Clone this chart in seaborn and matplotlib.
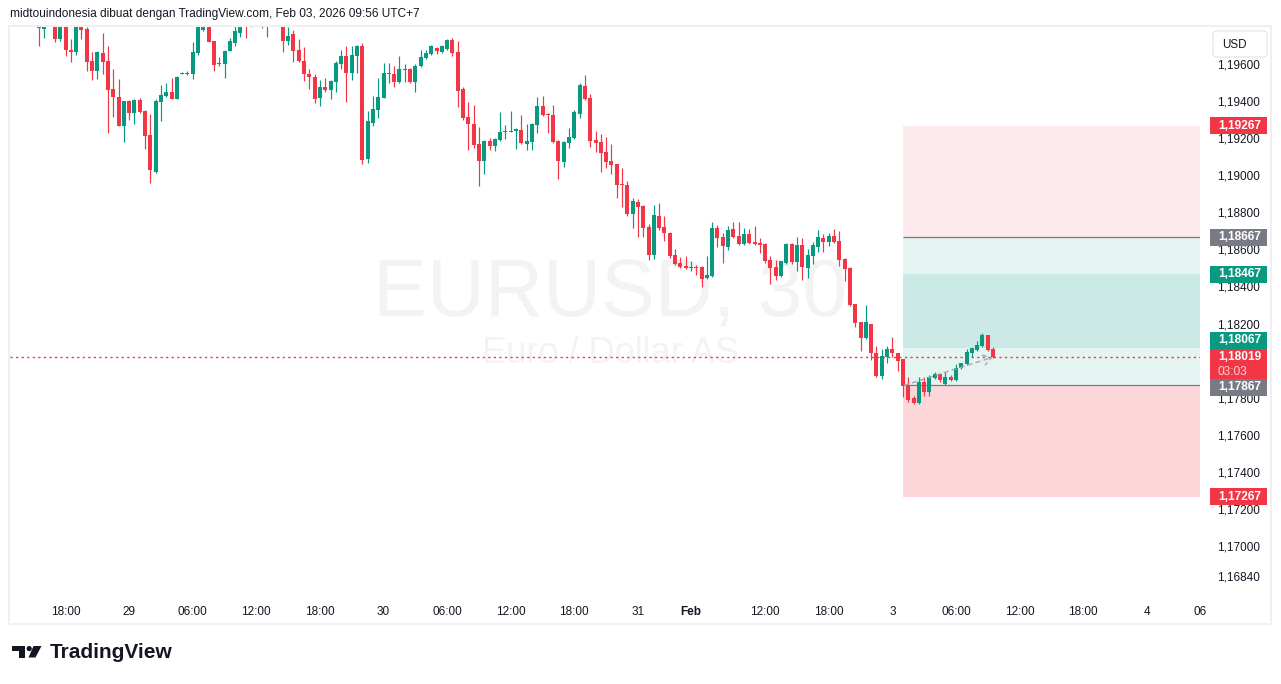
import numpy as np
import pandas as pd
import matplotlib
matplotlib.use("Agg")
import matplotlib.pyplot as plt
from matplotlib.patches import Rectangle, Polygon, Circle, FancyBboxPatch
import seaborn as sns

# ---------------- data (EURUSD, 30 min bars, Jan 28 15:30 -> Feb 3 09:30, UTC+7) ----------------
OPEN = [
    1.19838, 1.19789, 1.19827, 1.19881, 1.19735, 1.19816, 1.19676, 1.19665, 1.19811, 1.19789,
    1.19616, 1.19562, 1.19659, 1.19616, 1.19465, 1.19422, 1.19265, 1.19400, 1.19335, 1.19405,
    1.19346, 1.19217, 1.19017, 1.19395, 1.19427, 1.19449, 1.19411, 1.19548, 1.19546, 1.19546,
    1.19659, 1.19784, 1.19848, 1.19724, 1.19600, 1.19600, 1.19670, 1.19713, 1.19767, 1.19838,
    1.19810, 1.19850, 1.19880, 1.19815, 1.19850, 1.19880, 1.19860, 1.19724, 1.19762, 1.19676,
    1.19616, 1.19546, 1.19530, 1.19416, 1.19476, 1.19460, 1.19503, 1.19600, 1.19643, 1.19551,
    1.19643, 1.19697, 1.19087, 1.19281, 1.19351, 1.19416, 1.19548, 1.19546, 1.19503, 1.19570,
    1.19573, 1.19503, 1.19589, 1.19632, 1.19654, 1.19686, 1.19665, 1.19681, 1.19730, 1.19665,
    1.19465, 1.19314, 1.19276, 1.19168, 1.19076, 1.19184, 1.19157, 1.19190, 1.19236, 1.19236,
    1.19238, 1.19244, 1.19168, 1.19179, 1.19271, 1.19373, 1.19330, 1.19325, 1.19184, 1.19071,
    1.19173, 1.19200, 1.19330, 1.19481, 1.19416, 1.19190, 1.19179, 1.19125, 1.19076, 1.19060,
    1.18952, 1.18947, 1.18790, 1.18855, 1.18833, 1.18720, 1.18569, 1.18779, 1.18720, 1.18687,
    1.18569, 1.18525, 1.18509, 1.18501, 1.18504, 1.18504, 1.18444, 1.18455, 1.18714, 1.18666,
    1.18612, 1.18709, 1.18671, 1.18628, 1.18682, 1.18639, 1.18630, 1.18628, 1.18542, 1.18504,
    1.18455, 1.18525, 1.18628, 1.18531, 1.18623, 1.18498, 1.18563, 1.18612, 1.18660, 1.18639,
    1.18671, 1.18644, 1.18547, 1.18498, 1.18304, 1.18207, 1.18120, 1.18196, 1.18039, 1.17915,
    1.18018, 1.18061, 1.18039, 1.18007, 1.17861, 1.17796, 1.17769, 1.17883, 1.17829, 1.17904,
    1.17926, 1.17872, 1.17910, 1.17894, 1.17958, 1.17980, 1.18039, 1.18056, 1.18077, 1.18137,
    1.18061,
]
HIGH = [
    1.19865, 1.19848, 1.19902, 1.19892, 1.19827, 1.19827, 1.19735, 1.19816, 1.19827, 1.19800,
    1.19665, 1.19670, 1.19767, 1.19697, 1.19573, 1.19519, 1.19400, 1.19405, 1.19411, 1.19416,
    1.19351, 1.19330, 1.19411, 1.19487, 1.19497, 1.19524, 1.19535, 1.19557, 1.19562, 1.19719,
    1.19827, 1.19865, 1.19865, 1.19724, 1.19638, 1.19676, 1.19740, 1.19805, 1.19848, 1.19865,
    1.19870, 1.19900, 1.19900, 1.19870, 1.19895, 1.19910, 1.19880, 1.19800, 1.19784, 1.19735,
    1.19692, 1.19573, 1.19546, 1.19514, 1.19524, 1.19514, 1.19616, 1.19676, 1.19697, 1.19697,
    1.19703, 1.19713, 1.19346, 1.19427, 1.19524, 1.19605, 1.19605, 1.19589, 1.19643, 1.19600,
    1.19578, 1.19600, 1.19676, 1.19676, 1.19703, 1.19692, 1.19703, 1.19735, 1.19740, 1.19724,
    1.19476, 1.19395, 1.19379, 1.19260, 1.19190, 1.19200, 1.19200, 1.19341, 1.19271, 1.19346,
    1.19254, 1.19325, 1.19276, 1.19281, 1.19422, 1.19427, 1.19335, 1.19379, 1.19190, 1.19184,
    1.19254, 1.19351, 1.19497, 1.19541, 1.19438, 1.19238, 1.19222, 1.19206, 1.19168, 1.19060,
    1.19038, 1.18968, 1.18876, 1.18871, 1.18839, 1.18736, 1.18839, 1.18849, 1.18779, 1.18693,
    1.18601, 1.18558, 1.18563, 1.18536, 1.18515, 1.18509, 1.18563, 1.18747, 1.18731, 1.18687,
    1.18725, 1.18747, 1.18747, 1.18714, 1.18709, 1.18725, 1.18660, 1.18633, 1.18563, 1.18542,
    1.18539, 1.18633, 1.18633, 1.18666, 1.18660, 1.18601, 1.18639, 1.18704, 1.18682, 1.18687,
    1.18709, 1.18698, 1.18552, 1.18504, 1.18307, 1.18209, 1.18299, 1.18199, 1.18077, 1.18061,
    1.18077, 1.18126, 1.18042, 1.18010, 1.17910, 1.17807, 1.17910, 1.17910, 1.17921, 1.17937,
    1.17931, 1.17937, 1.17921, 1.17980, 1.17988, 1.18061, 1.18069, 1.18104, 1.18147, 1.18139,
    1.18072,
]
LOW = [
    1.19697, 1.19740, 1.19816, 1.19719, 1.19724, 1.19643, 1.19611, 1.19649, 1.19735, 1.19562,
    1.19514, 1.19519, 1.19546, 1.19227, 1.19314, 1.19265, 1.19179, 1.19298, 1.19276, 1.19335,
    1.19141, 1.18957, 1.19011, 1.19292, 1.19422, 1.19411, 1.19411, 1.19545, 1.19543, 1.19519,
    1.19649, 1.19778, 1.19719, 1.19562, 1.19589, 1.19524, 1.19670, 1.19697, 1.19746, 1.19740,
    1.19802, 1.19840, 1.19795, 1.19746, 1.19830, 1.19820, 1.19665, 1.19703, 1.19611, 1.19611,
    1.19508, 1.19465, 1.19389, 1.19373, 1.19449, 1.19411, 1.19449, 1.19573, 1.19395, 1.19514,
    1.19551, 1.19060, 1.19065, 1.19265, 1.19308, 1.19416, 1.19497, 1.19476, 1.19497, 1.19503,
    1.19497, 1.19449, 1.19584, 1.19627, 1.19649, 1.19654, 1.19659, 1.19676, 1.19643, 1.19368,
    1.19298, 1.19136, 1.19146, 1.18941, 1.19006, 1.19136, 1.19130, 1.19184, 1.19195, 1.19233,
    1.19141, 1.19168, 1.19136, 1.19136, 1.19227, 1.19319, 1.19227, 1.19173, 1.18979, 1.19044,
    1.19146, 1.19195, 1.19308, 1.19405, 1.19152, 1.19125, 1.19017, 1.19038, 1.19006, 1.18876,
    1.18828, 1.18779, 1.18714, 1.18666, 1.18666, 1.18542, 1.18547, 1.18704, 1.18644, 1.18552,
    1.18515, 1.18498, 1.18496, 1.18482, 1.18461, 1.18396, 1.18439, 1.18453, 1.18612, 1.18525,
    1.18596, 1.18663, 1.18625, 1.18625, 1.18630, 1.18625, 1.18579, 1.18525, 1.18412, 1.18434,
    1.18453, 1.18523, 1.18520, 1.18482, 1.18434, 1.18444, 1.18520, 1.18585, 1.18585, 1.18617,
    1.18636, 1.18509, 1.18428, 1.18296, 1.18180, 1.18050, 1.18118, 1.18002, 1.17910, 1.17899,
    1.17985, 1.18018, 1.17942, 1.17802, 1.17775, 1.17764, 1.17764, 1.17807, 1.17807, 1.17902,
    1.17883, 1.17869, 1.17891, 1.17891, 1.17953, 1.17977, 1.18018, 1.18053, 1.18072, 1.18053,
    1.18012,
]
CLOSE = [
    1.19794, 1.19827, 1.19881, 1.19735, 1.19811, 1.19676, 1.19665, 1.19805, 1.19784, 1.19611,
    1.19562, 1.19665, 1.19611, 1.19460, 1.19422, 1.19265, 1.19400, 1.19335, 1.19405, 1.19341,
    1.19211, 1.19028, 1.19400, 1.19433, 1.19449, 1.19411, 1.19530, 1.19552, 1.19551, 1.19665,
    1.19805, 1.19838, 1.19719, 1.19595, 1.19605, 1.19670, 1.19724, 1.19778, 1.19827, 1.19805,
    1.19850, 1.19880, 1.19815, 1.19850, 1.19880, 1.19860, 1.19724, 1.19751, 1.19670, 1.19616,
    1.19546, 1.19530, 1.19411, 1.19476, 1.19460, 1.19508, 1.19605, 1.19643, 1.19551, 1.19649,
    1.19697, 1.19082, 1.19292, 1.19357, 1.19422, 1.19551, 1.19551, 1.19503, 1.19573, 1.19573,
    1.19503, 1.19589, 1.19638, 1.19659, 1.19697, 1.19670, 1.19697, 1.19730, 1.19659, 1.19454,
    1.19308, 1.19276, 1.19163, 1.19076, 1.19184, 1.19157, 1.19195, 1.19233, 1.19238, 1.19240,
    1.19249, 1.19173, 1.19184, 1.19276, 1.19373, 1.19325, 1.19325, 1.19179, 1.19076, 1.19179,
    1.19206, 1.19341, 1.19487, 1.19411, 1.19184, 1.19173, 1.19119, 1.19071, 1.19055, 1.18947,
    1.18947, 1.18790, 1.18860, 1.18828, 1.18714, 1.18569, 1.18785, 1.18714, 1.18687, 1.18563,
    1.18520, 1.18504, 1.18498, 1.18504, 1.18501, 1.18439, 1.18461, 1.18714, 1.18660, 1.18617,
    1.18704, 1.18666, 1.18628, 1.18682, 1.18633, 1.18628, 1.18628, 1.18536, 1.18498, 1.18455,
    1.18536, 1.18628, 1.18531, 1.18623, 1.18504, 1.18569, 1.18623, 1.18666, 1.18639, 1.18671,
    1.18639, 1.18542, 1.18493, 1.18299, 1.18201, 1.18120, 1.18207, 1.18039, 1.17915, 1.18023,
    1.18061, 1.18039, 1.17996, 1.17861, 1.17786, 1.17769, 1.17883, 1.17829, 1.17910, 1.17926,
    1.17894, 1.17910, 1.17894, 1.17958, 1.17985, 1.18045, 1.18066, 1.18083, 1.18137, 1.18056,
    1.18019,
]

TIME_TICK_BARS = [5, 17, 29, 41, 53, 65, 77, 89, 101, 113, 123, 137, 149, 161, 173, 185, 197, 209, 219]
TIME_TICK_LABELS = ["18:00", "29", "06:00", "12:00", "18:00", "30", "06:00", "12:00", "18:00", "31",
                    "Feb", "12:00", "18:00", "3", "06:00", "12:00", "18:00", "4", "06"]
# 1,18000 sits completely under the last-price label in the reference, so it is not listed
PRICE_TICKS = [1.196, 1.194, 1.192, 1.190, 1.188, 1.186, 1.184, 1.182, 1.178,
               1.176, 1.174, 1.172, 1.170, 1.1684]

# position tools (short on top, long below)
SHORT_STOP, SHORT_ENTRY, SHORT_TARGET = 1.19267, 1.18667, 1.18067
LONG_TARGET, LONG_ENTRY, LONG_STOP = 1.18467, 1.17867, 1.17267
TOOL_START_BAR, TOOL_END_BAR = 163, 219
LAST_PRICE = 1.18019
COUNTDOWN = "03:03"

HEADER = "midtouindonesia dibuat dengan TradingView.com, Feb 03, 2026 09:56 UTC+7"
SYMBOL = "EURUSD, 30"
DESCRIPTION = "Euro / Dollar AS"

# ---------------- style ----------------
UP, DOWN = "#089981", "#f23645"
GREY = "#787b86"
TXT = "#131722"

sns.set_theme(style="white")
plt.rcParams["font.family"] = ["Liberation Sans", "DejaVu Sans"]

W, H = 1281, 684
fig = plt.figure(figsize=(W / 100, H / 100), dpi=100, facecolor="white")
PL, PR, PT, PB = 10, 1200, 27, 597
ax = fig.add_axes([PL / W, 1 - PB / H, (PR - PL) / W, (PB - PT) / H])
ax.set_facecolor("white")

BAR_PX, FIRST_PX = 5.3, 39.0
Y_TOP, Y_BOT = 1.19800, 1.167248
px_per_price = (PB - PT) / (Y_TOP - Y_BOT)

# ---------------- candles via seaborn ----------------
df = pd.DataFrame({"bar": np.arange(len(OPEN)), "open": OPEN, "high": HIGH,
                   "low": LOW, "close": CLOSE})
df["dir"] = np.where(df["close"] > df["open"], "up", "down")
pal = {"up": UP, "down": DOWN}

wicks = pd.concat([df.assign(price=df["low"]), df.assign(price=df["high"])]).sort_values(["bar", "price"])
sns.lineplot(data=wicks, x="bar", y="price", units="bar", hue="dir", palette=pal,
             estimator=None, sort=False, legend=False, linewidth=0.85,
             solid_capstyle="butt", zorder=3, ax=ax)

top = np.maximum(df["open"], df["close"])
bot = np.minimum(df["open"], df["close"])
mid = (top + bot) / 2
hgt = np.maximum(top - bot, 1.2 / px_per_price)
bodies = pd.concat([df.assign(price=mid - hgt / 2), df.assign(price=mid + hgt / 2)]).sort_values(["bar", "price"])
sns.lineplot(data=bodies, x="bar", y="price", units="bar", hue="dir", palette=pal,
             estimator=None, sort=False, legend=False, linewidth=2.9,
             solid_capstyle="butt", zorder=3.2, ax=ax)

# ---------------- position tools ----------------
x0, x1 = TOOL_START_BAR, TOOL_END_BAR
def band(lo, hi, color, alpha):
    ax.add_patch(Rectangle((x0, lo), x1 - x0, hi - lo, facecolor=color, alpha=alpha,
                           edgecolor="none", zorder=1))
band(SHORT_ENTRY, SHORT_STOP, DOWN, 0.10)
band(SHORT_TARGET, SHORT_ENTRY, UP, 0.105)
band(LONG_ENTRY, LONG_TARGET, UP, 0.105)
band(LONG_STOP, LONG_ENTRY, DOWN, 0.20)
ax.hlines([SHORT_ENTRY, LONG_ENTRY], x0, x1, colors=GREY, linewidth=0.9, zorder=2)

# current price dotted line
ax.axhline(LAST_PRICE, color=DOWN, linewidth=1.0, linestyle=(0, (1.6, 2.4)), zorder=4)

# projected path arrow
ax.annotate("", xy=(len(OPEN) - 1, LAST_PRICE), xytext=(x0 + 0.3, LONG_ENTRY),
            arrowprops=dict(arrowstyle="->,head_length=0.5,head_width=0.3", color="#a3a6af",
                            lw=1.0, linestyle=(0, (3, 3)), shrinkA=0, shrinkB=0), zorder=4)

# watermark
ax.text(610 / W, 1 - 315 / H, SYMBOL, transform=fig.transFigure, ha="center", va="baseline",
        fontsize=58, color="#f3f3f3", zorder=0.5)
ax.text(610 / W, 1 - 363 / H, DESCRIPTION, transform=fig.transFigure, ha="center", va="baseline",
        fontsize=26, color="#f3f3f3", zorder=0.5)

# ---------------- axes / ticks ----------------
ax.set_xlim((PL - FIRST_PX) / BAR_PX, (PR - FIRST_PX) / BAR_PX)
ax.set_ylim(Y_BOT, Y_TOP)
ax.set_xticks(TIME_TICK_BARS)
ax.set_xticklabels(TIME_TICK_LABELS)
for lbl, t in zip(ax.get_xticklabels(), TIME_TICK_LABELS):
    if t == "Feb":
        lbl.set_fontweight("bold")
ax.yaxis.tick_right()
ax.set_yticks(PRICE_TICKS)
ax.set_yticklabels([f"{p:.5f}".replace(".", ",") for p in PRICE_TICKS])
ax.tick_params(axis="both", length=0, labelsize=8.5, labelcolor=TXT)
ax.tick_params(axis="x", pad=6.5)
ax.tick_params(axis="y", pad=12.5)
for s in ax.spines.values():
    s.set_visible(False)
ax.set_xlabel("")
ax.set_ylabel("")
ax.grid(False)

# ---------------- overlay in pixel space ----------------
ov = fig.add_axes([0, 0, 1, 1])
ov.set_xlim(0, W)
ov.set_ylim(H, 0)
ov.axis("off")
ov.patch.set_visible(False)

def price_px(p):
    return H - ax.transData.transform((0, p))[1]

# chart frame
ov.add_patch(Rectangle((9, 25.5), 1262, 598, fill=False, edgecolor="#eef0f3", lw=1.5))

def price_box(price, text, color, shift=0.0, sub=None):
    yc = price_px(price) + shift
    h = 17 if sub is None else 31
    top_y = yc - 8.5
    ov.add_patch(Rectangle((1210, top_y), 57, h, facecolor=color, edgecolor="none", zorder=5))
    ov.text(1218, yc, text, ha="left", va="center", color="white", fontsize=8.6,
            fontweight="bold", zorder=6)
    if sub is not None:
        ov.text(1218, yc + 14.5, sub, ha="left", va="center", color="#fcd0d5", fontsize=8.6,
                zorder=6)

price_box(SHORT_STOP, f"{SHORT_STOP:.5f}".replace(".", ","), DOWN)
price_box(SHORT_ENTRY, f"{SHORT_ENTRY:.5f}".replace(".", ","), GREY)
price_box(LONG_TARGET, f"{LONG_TARGET:.5f}".replace(".", ","), UP)
price_box(SHORT_TARGET, f"{SHORT_TARGET:.5f}".replace(".", ","), UP, shift=-8)
price_box(LAST_PRICE, f"{LAST_PRICE:.5f}".replace(".", ","), DOWN, sub=COUNTDOWN)
price_box(LONG_ENTRY, f"{LONG_ENTRY:.5f}".replace(".", ","), GREY, shift=2)
price_box(LONG_STOP, f"{LONG_STOP:.5f}".replace(".", ","), DOWN)

# currency button
ov.add_patch(FancyBboxPatch((1213, 31), 54, 26, boxstyle="round,pad=0,rounding_size=4",
                            facecolor="white", edgecolor="#e0e3eb", lw=0.8, zorder=5))
ov.text(1222, 44.5, "USD", ha="left", va="center", color=TXT, fontsize=8.4, zorder=6)

# header
ov.text(10, 14, HEADER, ha="left", va="center", color=TXT, fontsize=8.6)

# TradingView logo
ov.add_patch(Polygon([(12, 646), (25, 646), (25, 657.5), (18.5, 657.5), (18.5, 651), (12, 651)],
                     closed=True, facecolor="#131722", edgecolor="none"))
ov.add_patch(Circle((29.2, 648.6), 2.6, facecolor="#131722", edgecolor="none"))
ov.add_patch(Polygon([(33.5, 646), (41.5, 646), (35.5, 657.5), (28.5, 657.5)],
                     closed=True, facecolor="#131722", edgecolor="none"))
ov.text(49.5, 652.5, "TradingView", ha="left", va="center", color="#131722", fontsize=15,
        fontweight="bold")

fig.savefig("out.png", dpi=100, facecolor="white")
